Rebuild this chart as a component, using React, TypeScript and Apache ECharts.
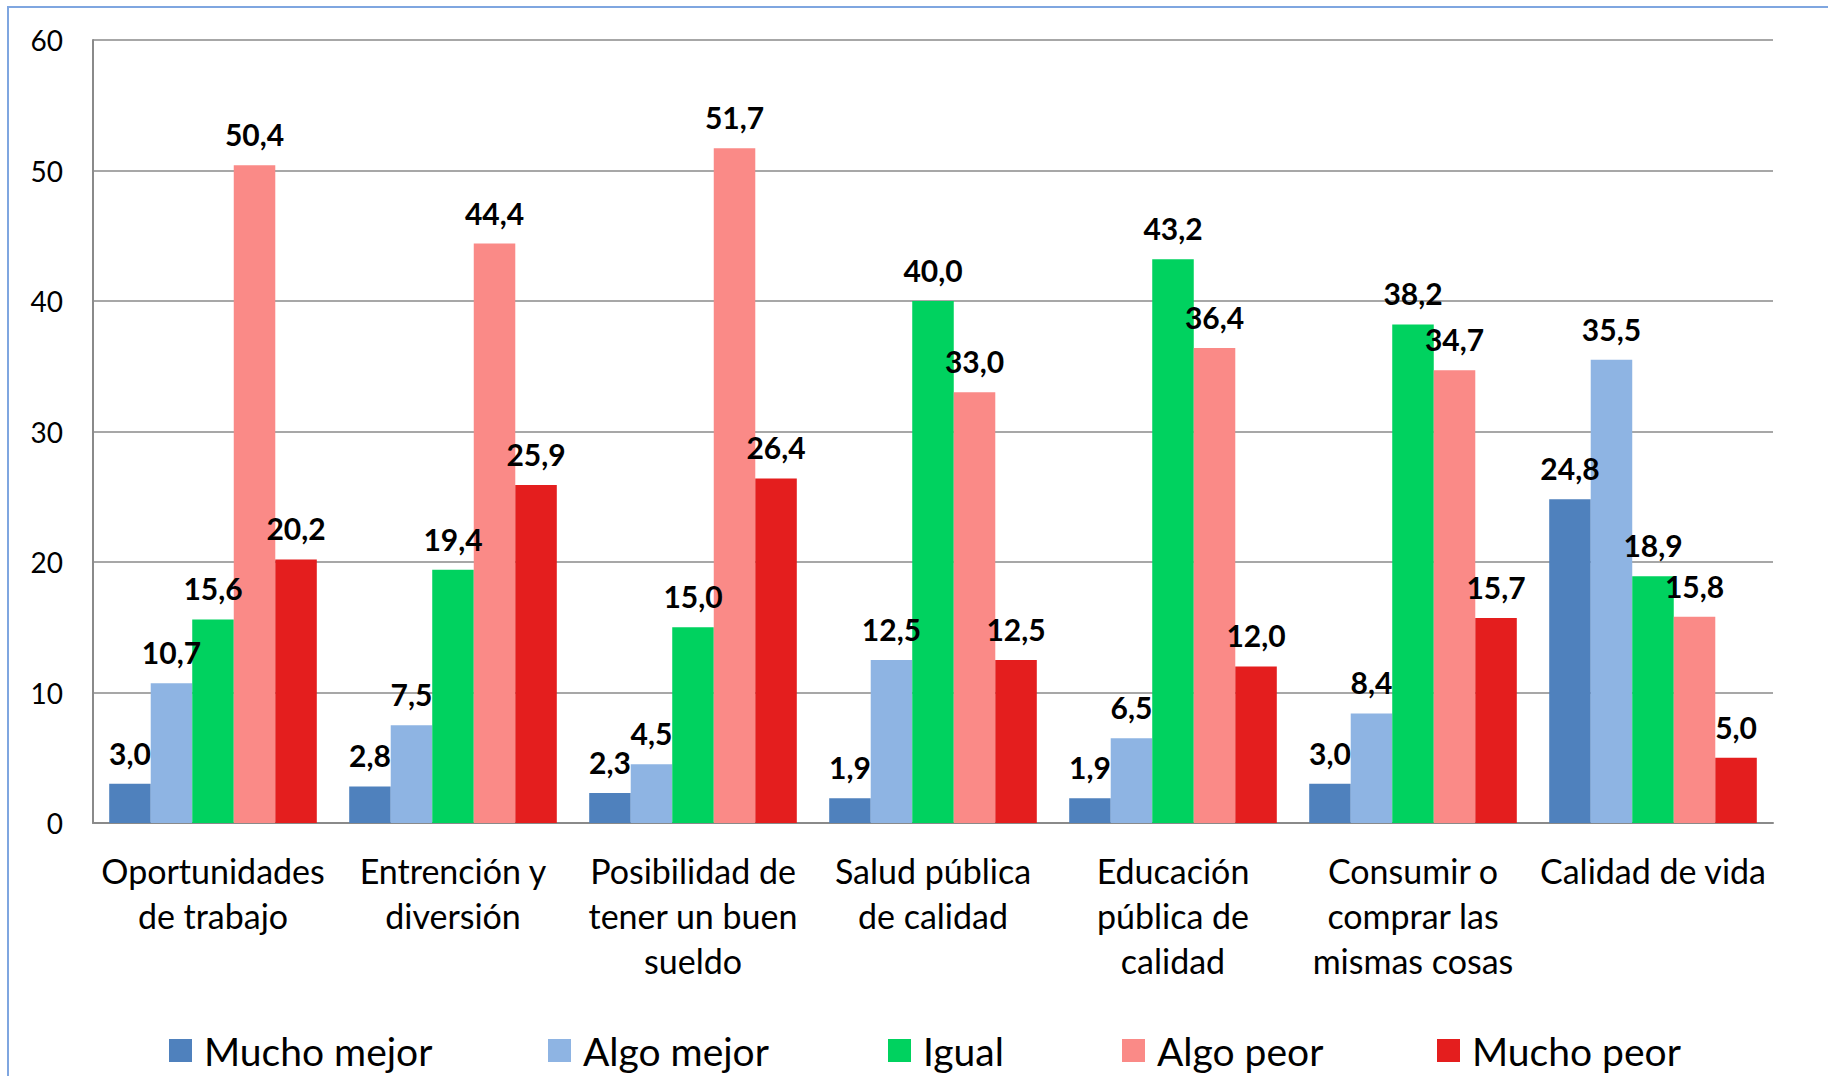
import React, { useEffect, useRef } from "react";
import * as echarts from "echarts";

const categories = [
  "Oportunidades\nde trabajo",
  "Entrención y\ndiversión",
  "Posibilidad de\ntener un buen\nsueldo",
  "Salud pública\nde calidad",
  "Educación\npública de\ncalidad",
  "Consumir o\ncomprar las\nmismas cosas",
  "Calidad de vida",
];

const seriesNames = ["Mucho mejor", "Algo mejor", "Igual", "Algo peor", "Mucho peor"];
const muchoMejor = [3.0, 2.8, 2.3, 1.9, 1.9, 3.0, 24.8];
const algoMejor = [10.7, 7.5, 4.5, 12.5, 6.5, 8.4, 35.5];
const igual = [15.6, 19.4, 15.0, 40.0, 43.2, 38.2, 18.9];
const algoPeor = [50.4, 44.4, 51.7, 33.0, 36.4, 34.7, 15.8];
const muchoPeor = [20.2, 25.9, 26.4, 12.5, 12.0, 15.7, 5.0];
const seriesValues = [muchoMejor, algoMejor, igual, algoPeor, muchoPeor];
const colors = ["#4F81BD", "#8EB4E3", "#00D25F", "#FA8A87", "#E41E1E"];
const legendLefts = [169, 548, 888, 1122, 1437];

const FONT = "Lato";

export default function App() {
  const ref = useRef<HTMLDivElement>(null);
  useEffect(() => {
    document.body.style.margin = "0";
    const chart = echarts.init(ref.current!, null, { renderer: "svg" });
    chart.setOption({
      animation: false,
      backgroundColor: "#ffffff",
      textStyle: { fontFamily: FONT, color: "#000" },
      graphic: [
        {
          type: "rect",
          shape: { x: 8, y: 7, width: 1900, height: 1200 },
          style: { fill: "none", stroke: "#7FA6E0", lineWidth: 2 },
          silent: true,
        },
      ],
      grid: { left: 93, right: 55, top: 40, bottom: 253, containLabel: false },
      legend: seriesNames.map((n, i) => ({
        data: [n],
        left: legendLefts[i],
        top: 1031,
        padding: 0,
        icon: "rect",
        itemWidth: 23,
        itemHeight: 23,
        selectedMode: false,
        textStyle: { fontFamily: FONT, fontSize: 39, color: "#000", padding: [0, 0, 0, 7] },
      })),
      xAxis: {
        type: "category",
        data: categories,
        axisLine: { show: true, lineStyle: { color: "#8a8a8a", width: 2 } },
        axisTick: { show: false },
        axisLabel: {
          interval: 0,
          fontFamily: FONT,
          fontSize: 34,
          lineHeight: 45,
          color: "#000",
          margin: 25,
        },
      },
      yAxis: {
        type: "value",
        min: 0,
        max: 60,
        interval: 10,
        axisLine: { show: true, lineStyle: { color: "#8a8a8a", width: 2 } },
        axisTick: { show: false },
        splitLine: { show: true, lineStyle: { color: "#8a8a8a", width: 1.5 } },
        axisLabel: { fontFamily: FONT, fontSize: 28, color: "#000", margin: 30 },
      },
      series: seriesNames.map((n, i) => ({
        name: n,
        type: "bar",
        data: seriesValues[i],
        barGap: "0%",
        barCategoryGap: "13.5%",
        itemStyle: { color: colors[i] },
        label: {
          show: true,
          position: "top",
          distance: 16,
          fontFamily: FONT,
          fontWeight: "bold",
          fontSize: 30,
          color: "#000",
          formatter: (p: any) => Number(p.value).toFixed(1).replace(".", ","),
        },
        z: 2,
      })),
    });
    return () => chart.dispose();
  }, []);
  return <div ref={ref} style={{ width: 1828, height: 1076 }} />;
}
